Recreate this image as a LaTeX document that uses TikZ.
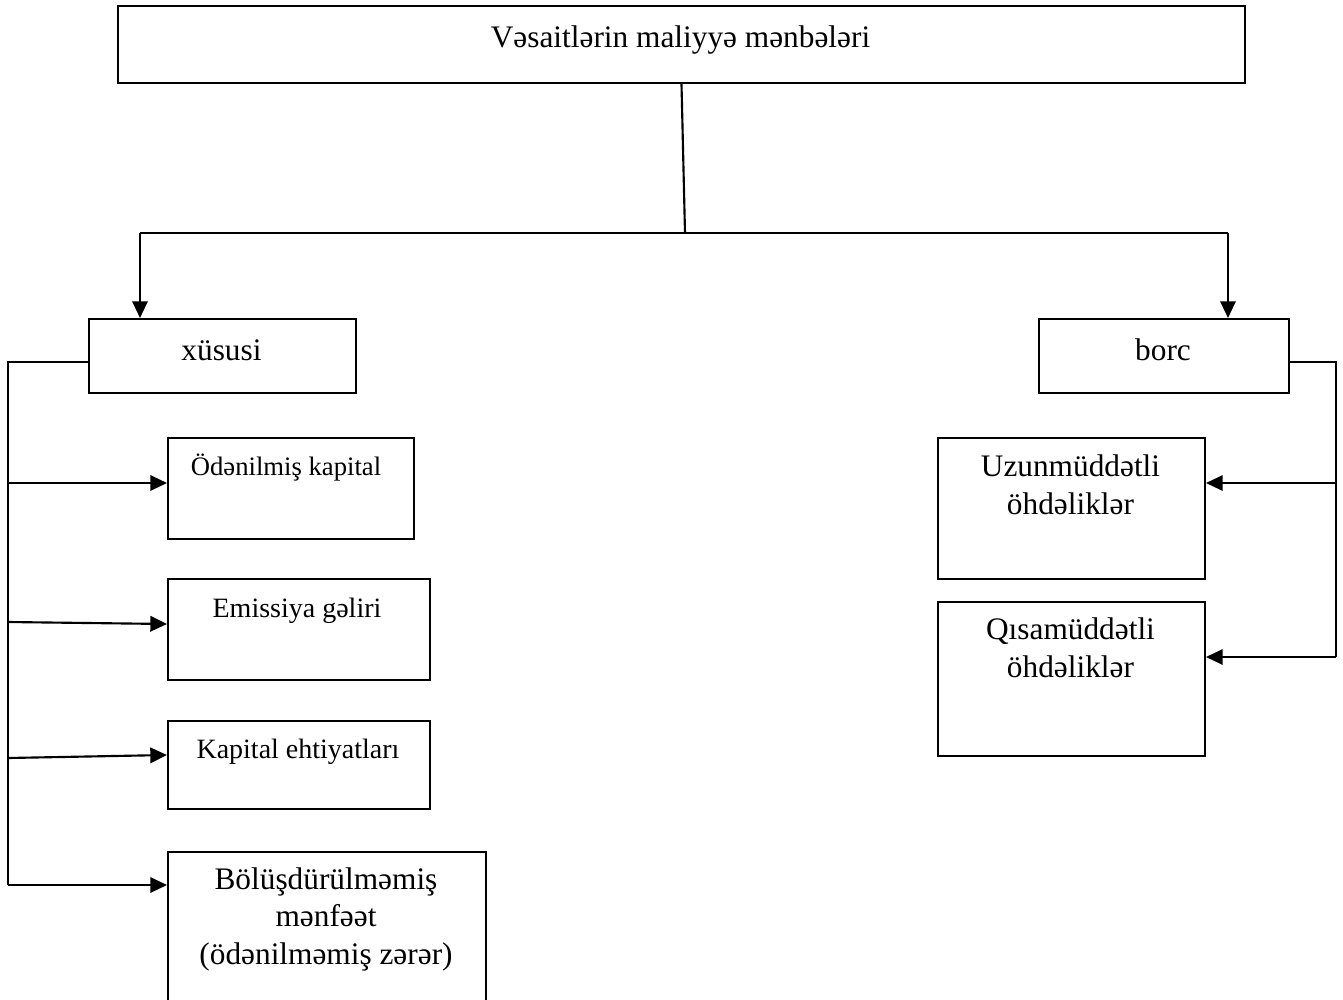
\documentclass[tikz,border=0pt]{standalone}
\usepackage{fontspec}
\setmainfont{Liberation Serif}
\usetikzlibrary{arrows.meta}
\begin{document}
\begin{tikzpicture}[x=0.75pt,y=-0.75pt,
  box/.style 2 args={draw, line width=1.5pt, inner sep=0pt, anchor=north west,
    minimum width=#1*0.75pt, minimum height=#2*0.75pt},
  lbl/.style={anchor=base, inner sep=0pt, align=center,
    font=\fontsize{23.5}{27.8}\selectfont},
  lblsmall/.style={lbl, font=\fontsize{20}{24}\selectfont},
  lblmid/.style={lbl, font=\fontsize{21}{25}\selectfont},
  conn/.style={line width=1.6pt},
  arr/.style={conn, -{Triangle[length=12.5pt,width=11.5pt]}}]
\useasboundingbox (0,0) rectangle (1343,1000);

% boxes
\node[box={1127}{77}] (top) at (117,5) {};
\node[box={267}{74}] (xus) at (88,318) {};
\node[box={250}{74}] (borc) at (1038,318) {};
\node[box={246}{101}] (b1) at (167,437) {};
\node[box={262}{101}] (b2) at (167,578) {};
\node[box={262}{88}] (b3) at (167,720) {};
\node[box={318}{153}] (b4) at (167,851) {};
\node[box={267}{141}] (r1) at (937,437) {};
\node[box={267}{154}] (r2) at (937,601) {};

% labels (anchor = baseline of the last line)
\node[lbl] (ttop) at (680.5,47) {Vəsaitlərin maliyyə mənbələri};
\node[lbl] (txus) at (221.5,360) {xüsusi};
\node[lbl] (tborc) at (1163,360) {borc};
\node[lblsmall] (tb1) at (286,475) {Ödənilmiş kapital};
\node[lblmid] (tb2) at (297,617) {Emissiya gəliri};
\node[lblmid] (tb3) at (298,758) {Kapital ehtiyatları};
\node[lbl] (tb4) at (326,964) {Bölüşdürülməmiş\\mənfəət\\(ödənilməmiş zərər)};
\node[lbl] (tr1) at (1070.5,514) {Uzunmüddətli\\öhdəliklər};
\node[lbl] (tr2) at (1070.5,677) {Qısamüddətli\\öhdəliklər};

% top connectors
\coordinate (hub) at (685,233);
\coordinate (hl) at (140,233);
\coordinate (hr) at (1228,233);
\draw[conn] (top.south) -- (hub);
\draw[conn] (hl) -- (hr);
\draw[arr] (hl) -- (hl |- xus.north);
\draw[arr] (hr) -- (hr |- borc.north);

% left bracket
\coordinate (lx) at (8,362);
\coordinate (l1) at (8,483);
\coordinate (l2) at (8,622);
\coordinate (l3) at (8,758);
\coordinate (l4) at (8,885);
\coordinate (e2) at (0,624);
\coordinate (e3) at (0,755);
\draw[conn] (xus.west |- lx) -- (lx) -- (l4);
\draw[arr] (l1) -- (b1.west |- l1);
\draw[arr] (l2) -- (b2.west |- e2);
\draw[arr] (l3) -- (b3.west |- e3);
\draw[arr] (l4) -- (b4.west |- l4);

% right bracket
\coordinate (rx) at (1336,362);
\coordinate (m1) at (1336,483);
\coordinate (m2) at (1336,657);
\draw[conn] (borc.east |- rx) -- (rx) -- (m2);
\draw[arr] (m1) -- (r1.east |- m1);
\draw[arr] (m2) -- (r2.east |- m2);
\end{tikzpicture}
\end{document}
